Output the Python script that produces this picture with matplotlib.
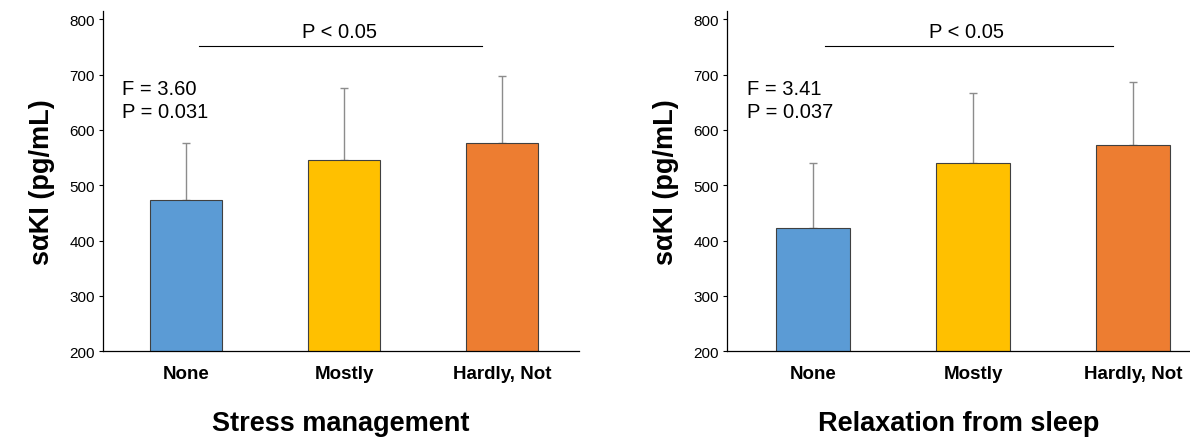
import matplotlib.pyplot as plt
import numpy as np

plt.rcParams['font.family'] = ['Liberation Sans', 'DejaVu Sans']

# data
groups = ['None', 'Mostly', 'Hardly, Not']
colors = ['#5B9BD5', '#FFC000', '#ED7D31']

stress_mean = [474, 545, 576]
stress_upper = [576, 675, 697]
stress_stats = 'F = 3.60\nP = 0.031'

sleep_mean = [422, 540, 573]
sleep_upper = [541, 667, 687]
sleep_stats = 'F = 3.41\nP = 0.037'

yticks = [200, 300, 400, 500, 600, 700, 800]


def draw_panel(ax, means, uppers, stats, xlabel, xlim, line_x, text_x, stats_x):
    x = np.arange(len(groups))
    err = np.array(uppers) - np.array(means)
    ax.bar(x, means, width=0.46, color=colors, edgecolor='#404040',
           linewidth=0.8, zorder=2)
    ax.errorbar(x, means, yerr=[np.zeros(len(x)), err], fmt='none',
                ecolor='#8c8c8c', elinewidth=1, capsize=3, capthick=1, zorder=1)
    ax.set_ylim(200, 815)
    ax.set_xlim(*xlim)
    ax.set_yticks(yticks)
    ax.tick_params(axis='y', labelsize=11, length=3, width=0.8, pad=3)
    ax.set_xticks(x)
    ax.set_xticklabels(groups, fontsize=13.5, fontweight='bold')
    ax.tick_params(axis='x', length=0, pad=10)
    for s in ['top', 'right']:
        ax.spines[s].set_visible(False)
    ax.spines['left'].set_linewidth(0.9)
    ax.spines['bottom'].set_linewidth(0.9)
    ax.set_ylabel('s\u03b1KI (pg/mL)', fontsize=19.5, fontweight='bold', labelpad=10)
    ax.set_xlabel(xlabel, fontsize=19.5, fontweight='bold', labelpad=20)
    ax.plot(line_x, [752, 752], color='black', linewidth=0.8)
    ax.text(text_x, 778, 'P < 0.05', fontsize=14.5, ha='center', va='center')
    ax.text(stats_x, 654, stats, fontsize=14.5, ha='left', va='center',
            linespacing=1.25)


fig = plt.figure(figsize=(11.9, 4.39), dpi=100)
ax1 = fig.add_axes([0.0866, 0.198, 0.400, 0.7745])
ax2 = fig.add_axes([0.611, 0.198, 0.389, 0.7745])

draw_panel(ax1, stress_mean, stress_upper, stress_stats, 'Stress management',
           (-0.525, 2.487), [0.082, 1.87], 0.97, -0.405)
draw_panel(ax2, sleep_mean, sleep_upper, sleep_stats, 'Relaxation from sleep',
           (-0.5375, 2.356), [0.075, 1.875], 0.96, -0.41)

fig.savefig('out.png', dpi=100)
